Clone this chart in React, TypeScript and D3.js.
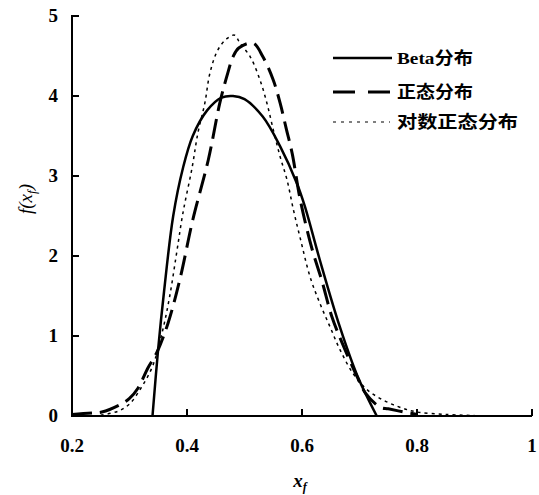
import React from "react";
import * as d3 from "d3";

const betaX = [0.34, 0.35, 0.36, 0.376, 0.393, 0.41, 0.435, 0.46, 0.48, 0.5, 0.532, 0.562, 0.591, 0.605, 0.631, 0.666, 0.697, 0.73];
const betaY = [0, 0.85, 1.55, 2.5, 3.1, 3.5, 3.82, 3.98, 4.0, 3.96, 3.74, 3.37, 2.91, 2.62, 1.95, 1.11, 0.49, 0];

const normX = [0.2, 0.24, 0.252, 0.283, 0.3, 0.315, 0.332, 0.348, 0.367, 0.388, 0.41, 0.437, 0.457, 0.471, 0.48, 0.49, 0.515, 0.532, 0.55, 0.562, 0.573, 0.583, 0.597, 0.617, 0.635, 0.652, 0.67, 0.696, 0.71, 0.736, 0.75, 0.784, 0.8];
const normY = [0.02, 0.04, 0.05, 0.14, 0.22, 0.35, 0.6, 0.8, 1.16, 1.72, 2.45, 3.2, 3.91, 4.29, 4.49, 4.6, 4.66, 4.49, 4.2, 3.91, 3.58, 3.28, 2.7, 2.1, 1.68, 1.24, 0.91, 0.49, 0.29, 0.11, 0.09, 0.04, 0.02];

const lognX = [0.25, 0.28, 0.3, 0.32, 0.34, 0.357, 0.37, 0.382, 0.393, 0.409, 0.419, 0.431, 0.44, 0.454, 0.47, 0.483, 0.492, 0.51, 0.527, 0.539, 0.55, 0.562, 0.574, 0.585, 0.597, 0.614, 0.631, 0.649, 0.666, 0.689, 0.713, 0.741, 0.77, 0.8, 0.85, 0.9];
const lognY = [0.01, 0.06, 0.15, 0.35, 0.62, 1.05, 1.5, 2.04, 2.54, 3.11, 3.54, 3.91, 4.29, 4.58, 4.72, 4.76, 4.66, 4.49, 4.2, 3.91, 3.58, 3.24, 2.95, 2.58, 2.22, 1.74, 1.41, 1.11, 0.83, 0.53, 0.33, 0.2, 0.11, 0.05, 0.02, 0.005];

const xTicks = [0.2, 0.4, 0.6, 0.8, 1];
const xTickLabels = ["0.2", "0.4", "0.6", "0.8", "1"];
const yTicks = [0, 1, 2, 3, 4, 5];

const legendLabels = ["Beta分布", "正态分布", "对数正态分布"];

export default function App() {
  const x = d3.scaleLinear().domain([0.2, 1]).range([72, 532]);
  const y = d3.scaleLinear().domain([0, 5]).range([416, 16]);

  const line = d3
    .line<[number, number]>()
    .x((d) => x(d[0]))
    .y((d) => y(d[1]))
    .curve(d3.curveCatmullRom.alpha(0.5));

  const zip = (a: number[], b: number[]) => a.map((v, i) => [v, b[i]] as [number, number]);

  const serif = "'Liberation Serif', 'DejaVu Serif', serif";
  const cjk = "'Liberation Serif', 'Noto Sans CJK SC', serif";

  return (
    <svg
      width={539}
      height={495}
      style={{ position: "absolute", left: 0, top: 0, background: "#fff" }}
    >
      <rect x={0} y={0} width={539} height={495} fill="#fff" />
      {/* curves */}
      <path d={line(zip(lognX, lognY)) || ""} fill="none" stroke="#000" strokeWidth={1.5} strokeDasharray="3,4" />
      <path d={line(zip(normX, normY)) || ""} fill="none" stroke="#000" strokeWidth={3} strokeDasharray="20,8" />
      <path d={line(zip(betaX, betaY)) || ""} fill="none" stroke="#000" strokeWidth={2.5} />

      {/* axes */}
      <line x1={x(0.2)} y1={y(5) - 1} x2={x(0.2)} y2={y(0) + 1} stroke="#000" strokeWidth={2} />
      <line x1={x(0.2) - 1} y1={y(0)} x2={x(1)} y2={y(0)} stroke="#000" strokeWidth={2} />
      {yTicks.map((t) => (
        <g key={"y" + t}>
          <line x1={x(0.2)} x2={x(0.2) + 7} y1={y(t)} y2={y(t)} stroke="#000" strokeWidth={2} />
          <text
            x={58}
            y={y(t) + 6}
            textAnchor="end"
            fontFamily={serif}
            fontWeight="bold"
            fontSize={19}
          >
            {t}
          </text>
        </g>
      ))}
      {xTicks.map((t, i) => (
        <g key={"x" + t}>
          <line x1={x(t)} x2={x(t)} y1={y(0)} y2={y(0) - 7} stroke="#000" strokeWidth={2} />
          <text
            x={x(t)}
            y={452}
            textAnchor="middle"
            fontFamily={serif}
            fontWeight="bold"
            fontSize={19}
          >
            {xTickLabels[i]}
          </text>
        </g>
      ))}

      {/* axis titles */}
      <text
        transform="translate(32,199) rotate(-90)"
        textAnchor="middle"
        fontFamily={serif}
        fontStyle="italic"
        fontSize={19}
      >
        f(x
        <tspan fontSize={13} dy={4}>f</tspan>
        <tspan dy={-4}>)</tspan>
      </text>
      <text
        x={300}
        y={487}
        textAnchor="middle"
        fontFamily={serif}
        fontStyle="italic"
        fontWeight="bold"
        fontSize={19}
      >
        x<tspan fontSize={12} dy={4}>f</tspan>
      </text>

      {/* legend */}
      <line x1={333} x2={392} y1={58} y2={58} stroke="#000" strokeWidth={2.5} />
      <line x1={333} x2={390} y1={92} y2={92} stroke="#000" strokeWidth={3} strokeDasharray="22,13" />
      <line x1={333} x2={390} y1={122} y2={122} stroke="#000" strokeWidth={1.2} strokeDasharray="3,5" />
      {legendLabels.map((l, i) => (
        <text
          key={l}
          x={397}
          y={[64, 98, 128][i]}
          fontFamily={cjk}
          fontWeight="bold"
          fontSize={17}
          textLength={[76, 76, 121][i]}
          lengthAdjust="spacingAndGlyphs"
        >
          {l}
        </text>
      ))}
    </svg>
  );
}
